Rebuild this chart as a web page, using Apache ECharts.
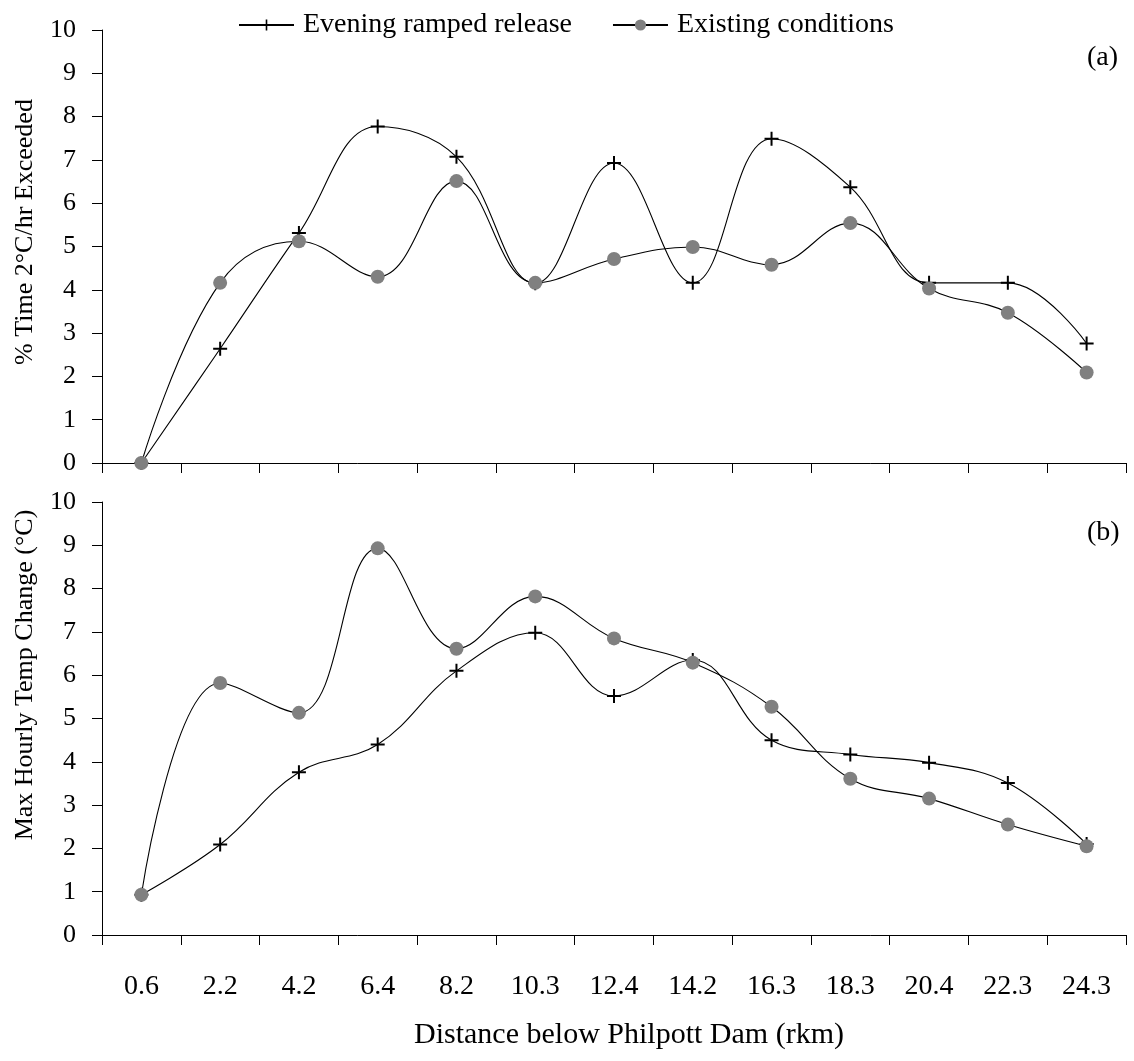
<!DOCTYPE html>
<html>
<head>
<meta charset="utf-8">
<script src="https://cdn.jsdelivr.net/npm/echarts@6/dist/echarts.min.js"></script>
<style>
html,body{margin:0;padding:0;background:#fff;}
#c{width:1134px;height:1061px;}
</style>
</head>
<body>
<div id="c"></div>
<script>
var categories = ['0.6','2.2','4.2','6.4','8.2','10.3','12.4','14.2','16.3','18.3','20.4','22.3','24.3'];
var yTicks = [0,1,2,3,4,5,6,7,8,9,10];
// Panel (a): % Time 2°C/hr Exceeded
var aEvening  = [0, 2.64, 5.31, 7.77, 7.07, 4.15, 6.93, 4.16, 7.49, 6.37, 4.16, 4.16, 2.76];
var aExisting = [0, 4.16, 5.12, 4.30, 6.51, 4.16, 4.71, 4.99, 4.58, 5.54, 4.03, 3.47, 2.09];
// Panel (b): Max Hourly Temp Change (°C)
var bEvening  = [0.93, 2.09, 3.76, 4.40, 6.10, 6.98, 5.52, 6.35, 4.50, 4.17, 3.98, 3.51, 2.10];
var bExisting = [0.93, 5.82, 5.13, 8.93, 6.61, 7.82, 6.85, 6.29, 5.27, 3.61, 3.15, 2.55, 2.05];
var seriesNames = ['Evening ramped release', 'Existing conditions'];

var FONT = '"Liberation Serif", "Times New Roman", serif';
var CROSS = 'path://M6,0H8V6H14V8H8V14H6V8H0V6H6Z';

function xAxis(idx, showLabels) {
  return {
    type: 'category', gridIndex: idx, data: categories, boundaryGap: true,
    axisLine: {show: true, lineStyle: {color: '#000', width: 1}},
    axisTick: {show: true, length: 10, lineStyle: {color: '#000'}},
    axisLabel: {show: showLabels, fontFamily: FONT, fontSize: 28, color: '#000', margin: 38},
    splitLine: {show: false}
  };
}
function yAxis(idx) {
  return {
    type: 'value', gridIndex: idx, min: yTicks[0], max: yTicks[yTicks.length-1], interval: 1,
    axisLine: {show: true, lineStyle: {color: '#000', width: 1}},
    axisTick: {show: true, length: 10, lineStyle: {color: '#000'}},
    axisLabel: {fontFamily: FONT, fontSize: 26, color: '#000', margin: 26},
    splitLine: {show: false}
  };
}
function evening(idx, data) {
  return {
    name: seriesNames[0], type: 'line', xAxisIndex: idx, yAxisIndex: idx, data: data,
    smooth: 0.4, symbol: CROSS, symbolSize: 14,
    itemStyle: {color: '#000'}, lineStyle: {color: '#000', width: 1.1}, z: 2
  };
}
function existing(idx, data) {
  return {
    name: seriesNames[1], type: 'line', xAxisIndex: idx, yAxisIndex: idx, data: data,
    smooth: 0.4, symbol: 'circle', symbolSize: 14,
    itemStyle: {color: '#808080'}, lineStyle: {color: '#000', width: 1.1}, z: 3
  };
}

var chart = echarts.init(document.getElementById('c'), null, {renderer: 'canvas'});
chart.setOption({
  animation: false,
  backgroundColor: '#fff',
  legend: {
    data: seriesNames, left: 233, top: 6, itemWidth: 55, itemHeight: 14, itemGap: 40,
    textStyle: {fontFamily: FONT, fontSize: 28, color: '#000', padding: [0,0,0,4]}
  },
  grid: [
    {left: 102, right: 8, top: 30, height: 433},
    {left: 102, right: 8, top: 502, height: 433}
  ],
  xAxis: [xAxis(0, false), xAxis(1, true)],
  yAxis: [yAxis(0), yAxis(1)],
  series: [evening(0, aEvening), existing(0, aExisting), evening(1, bEvening), existing(1, bExisting)],
  graphic: [
    {type: 'text', left: 1087, top: 44, style: {text: '(a)', font: '28px ' + FONT, fill: '#000'}},
    {type: 'text', left: 1087, top: 519, style: {text: '(b)', font: '28px ' + FONT, fill: '#000'}},
    {type: 'text', x: 25, y: 232, rotation: Math.PI/2,
     style: {text: '% Time 2°C/hr Exceeded', font: '26px ' + FONT, fill: '#000', align: 'center', verticalAlign: 'middle'}},
    {type: 'text', x: 25, y: 675, rotation: Math.PI/2,
     style: {text: 'Max Hourly Temp Change (°C)', font: '26px ' + FONT, fill: '#000', align: 'center', verticalAlign: 'middle'}},
    {type: 'text', x: 629, y: 1035,
     style: {text: 'Distance below Philpott Dam (rkm)', font: '30px ' + FONT, fill: '#000', align: 'center', verticalAlign: 'middle'}}
  ]
});
</script>
</body>
</html>
